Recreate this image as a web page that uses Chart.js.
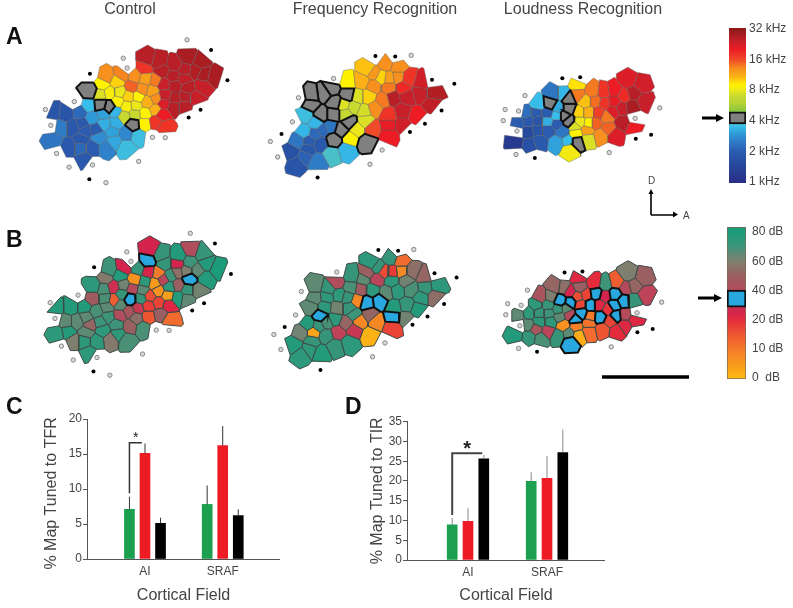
<!DOCTYPE html>
<html>
<head>
<meta charset="utf-8">
<title>Tonotopic maps</title>
<script src="https://cdn.jsdelivr.net/npm/chart.js@4"></script>
<style>
body { margin: 0; background: #fff; font-family: "Liberation Sans", Arial, sans-serif; color: #444; }
#page { position: relative; width: 793px; height: 608px; overflow: hidden; filter: blur(0.45px); }
canvas { position: absolute; }
.head { position: absolute; top: 0; font-size: 16px; line-height: 18px; transform: translateX(-50%); white-space: nowrap; }
.letter { position: absolute; font-size: 23px; line-height: 23px; font-weight: bold; color: #111; }
.note { position: absolute; font-size: 10px; line-height: 10px; }
svg { position: absolute; left: 0; top: 0; }
</style>
</head>
<body>
<div id="page">
  <div class="head" style="left:130px">Control</div>
  <div class="head" style="left:375px">Frequency Recognition</div>
  <div class="head" style="left:583px">Loudness Recognition</div>
  <div class="letter" style="left:6px;top:25px">A</div>
  <div class="letter" style="left:6px;top:228px">B</div>
  <div class="letter" style="left:6px;top:395px">C</div>
  <div class="letter" style="left:345px;top:395px">D</div>
  <div class="note" style="left:648px;top:176px">D</div>
  <div class="note" style="left:683px;top:211px">A</div>
  <svg width="793" height="608">
    <g stroke="#000" fill="#000">
      <path d="M651 215V193M651 215H674" stroke-width="1.6" fill="none"/>
      <path d="M648.5 194L651 189L653.5 194Z M673 211.5L678 214.5L673 217.5Z" stroke="none"/>
      <path d="M702 118H718" stroke-width="3"/>
      <path d="M716 114L724 118L716 122Z" stroke="none"/>
      <path d="M698 298H716" stroke-width="3"/>
      <path d="M714 294L722 298L714 302Z" stroke="none"/>
      <path d="M602 377H689" stroke-width="3.5"/>
    </g>
  </svg>
</div>
<script>
// colour scales
var freqStopKhz = [1, 1.5, 2, 2.5, 3, 3.5, 5, 6, 7, 8, 9, 11, 13, 16, 20, 24, 32];
var freqStopColor = ['#2a2f86', '#264a9e', '#2b5cb0', '#2f7cc6', '#2f9ad8', '#38bdea', '#8cc63f', '#b5d334', '#c8d92f', '#ece71a', '#fff200', '#fbb017', '#f7901e', '#ef4b28', '#ed1c24', '#c8202a', '#8b1a1a'];
var levelStopDb = [0, 5, 10, 15, 20, 25, 30, 40, 50, 60, 70, 80];
var levelStopColor = ['#fdb913', '#f8981d', '#f37b2b', '#ee5532', '#e42b3c', '#d4244d', '#c93853', '#b54a5c', '#9a5f60', '#7f7f70', '#3d9478', '#1c9b7b'];

var freqLabels = ['1 kHz', '2 kHz', '4 kHz', '8 kHz', '16 kHz', '32 kHz'];
var levelLabels = ['0  dB', '10 dB', '20 dB', '40 dB', '60 dB', '80 dB'];
var levelTickDb = [0, 10, 20, 40, 60, 80];
var TRAINED_KHZ = 4;
var TRAINED_DB = 35;

// recording sites: [x, y, best frequency in kHz], map units are 1/3 px
var controlFreq = [[445,170,26],[478,178,26],[435,200,18],[490,210,26],[530,190,26],[570,165,28],[610,180,28],[560,205,26],[595,208,27],[652,225,28],[620,218,28],[525,225,26],[558,232,25],[495,250,24],[530,255,26],[570,262,26],[615,258,24],[500,285,24],[530,295,26],[562,290,26],[595,292,24],[527,320,26],[560,320,26],[495,312,22],[490,345,20],[470,370,18],[498,385,18],[315,228,13],[365,220,13.5],[405,225,13],[438,232,12],[470,238,14],[350,243,10],[305,250,9],[395,258,15],[428,265,13],[460,272,12],[298,283,7.5],[325,278,8.5],[358,275,8],[385,288,10],[415,290,9],[445,307,11],[470,295,13],[470,330,11],[352,305,9],[380,320,8.5],[408,318,8],[372,352,7],[405,345,7],[437,342,9],[435,375,9],[265,272,4],[298,315,4],[326,322,4],[400,378,4],[262,318,3.5],[272,355,3],[305,345,3.1],[345,337,3.4],[310,375,3.3],[345,372,3.3],[335,400,3.1],[378,405,2.7],[415,412,3.6],[295,418,2.8],[340,430,3.2],[315,450,2.6],[378,450,3.6],[235,340,2.2],[190,345,1.8],[150,340,1.8],[175,385,2.5],[212,385,1.9],[240,375,1.9],[285,393,2],[250,397,2],[150,428,2.4],[200,450,1.9],[238,425,1.9],[235,450,2.2],[272,452,2],[248,487,1.9]];
var freqTaskFreq = [[352,203,10.5],[410,185,13],[447,195,13],[372,217,12.5],[395,228,10],[420,232,12],[447,228,13],[335,240,11],[290,245,9],[372,255,13],[420,260,14],[355,290,10],[322,290,7.5],[400,300,14],[375,325,13],[342,335,7.3],[310,322,7],[278,315,7.6],[283,345,6.8],[345,365,7.5],[318,392,8],[297,420,9],[178,285,4],[175,315,4],[215,280,4],[240,263,4],[250,308,4],[290,283,4],[207,345,4],[245,345,4],[295,370,4],[270,395,4],[247,425,4],[352,435,4],[480,232,18],[462,260,19],[520,243,23],[560,280,27],[518,280,24],[555,310,25],[432,292,26],[475,290,24],[462,335,24],[505,350,20],[418,347,18],[462,378,23],[418,380,21],[418,410,20],[368,390,16],[160,348,3.6],[190,372,3.4],[155,400,3.4],[237,385,2.4],[212,395,2.2],[187,407,2.2],[135,430,2.4],[170,428,2],[205,437,1.9],[165,455,1.9],[115,465,1.7],[155,478,2.1],[130,500,1.8],[195,495,2.5],[240,470,3.8],[285,458,3.4]];
var loudTaskFreq = [[447,238,22],[490,252,23],[465,278,26],[435,287,19],[500,305,24],[460,322,28],[405,270,20],[372,275,18],[405,305,21],[428,325,24],[375,310,18],[400,335,22],[432,372,26],[465,387,20],[408,412,22],[355,340,17],[382,352,14],[345,372,15],[338,272,14],[345,305,14.5],[290,283,14],[288,252,9.5],[315,305,10.5],[325,340,11],[295,340,10],[295,368,8],[327,372,9],[282,383,7.5],[285,405,9],[320,397,12],[362,412,13],[385,390,15],[322,422,7.5],[265,455,8.3],[205,312,4],[262,295,4],[262,328,4],[250,350,4],[263,365,4],[288,432,4],[215,280,2.4],[243,280,3.4],[165,315,3.5],[228,325,3.2],[225,350,3.5],[130,340,2.3],[160,340,2],[195,342,2],[105,375,2],[135,368,1.9],[165,365,1.8],[195,367,3.3],[225,375,2],[135,400,1.5],[165,395,1.8],[195,395,2],[243,400,2.4],[95,435,1.2],[140,440,1.7],[170,430,1.9],[225,435,3.1],[260,430,3.5]];

// same sites as read on row B: [x, y, threshold in dB]
var controlLevel = [[452,110,25],[486,127,72],[445,145,35],[497,155,72],[542,130,78],[580,110,42],[617,122,72],[538,155,25],[575,150,70],[628,155,78],[662,170,80],[372,168,25],[325,175,70],[360,192,78],[415,170,72],[447,180,24],[478,185,10],[315,200,58],[404,205,6],[467,218,5],[494,205,38],[517,193,70],[538,182,55],[565,178,60],[600,175,65],[575,203,35],[625,200,78],[275,225,75],[338,228,28],[370,222,62],[437,212,75],[512,228,75],[540,222,50],[570,237,72],[602,238,62],[310,235,68],[397,233,40],[430,238,65],[478,240,6],[273,265,48],[313,265,68],[365,252,72],[340,270,14],[390,267,35],[423,265,72],[452,257,16],[508,255,4],[538,262,78],[568,267,65],[160,295,78],[205,293,78],[248,292,78],[285,305,68],[318,292,65],[360,285,65],[415,295,30],[447,288,18],[480,278,17],[510,285,22],[190,337,65],[225,337,65],[253,325,65],[265,348,52],[297,340,70],[322,323,70],[358,318,42],[387,305,45],[410,327,55],[447,322,15],[485,315,50],[515,333,12],[165,378,75],[195,372,78],[213,400,60],[255,372,65],[305,365,75],[348,347,70],[390,352,50],[430,358,68],[248,400,75],[285,400,75],[330,395,58],[352,378,75],[380,397,68],[262,437,75]];
var freqTaskLevel = [[365,120,75],[425,105,72],[457,115,12],[385,135,72],[405,148,16],[430,150,18],[458,147,8],[350,153,50],[303,162,72],[255,183,42],[187,195,65],[382,173,38],[340,172,65],[428,177,75],[472,178,62],[492,147,55],[530,163,52],[573,195,75],[300,200,68],[230,205,72],[332,205,48],[367,207,75],[445,210,75],[488,205,68],[533,200,72],[565,227,55],[187,232,65],[225,228,75],[263,223,75],[290,230,72],[320,240,8],[412,215,65],[520,230,75],[350,248,35],[390,243,35],[175,262,65],[218,262,75],[256,265,62],[295,265,72],[435,262,78],[475,255,72],[510,268,78],[205,290,35],[310,285,70],[360,285,52],[472,297,62],[432,294,35],[167,317,78],[250,300,75],[225,310,68],[198,322,72],[285,312,52],[327,307,8],[380,307,8],[430,325,17],[145,343,62],[183,342,3],[222,352,72],[260,342,36],[310,335,30],[360,352,1],[123,383,78],[178,370,72],[145,413,75],[170,395,75],[207,408,78],[250,387,72],[295,375,75]];
var loudTaskLevel = [[448,155,60],[495,167,50],[293,168,22],[412,182,14],[468,193,52],[342,185,20],[377,190,70],[220,197,52],[245,200,55],[297,197,50],[265,212,25],[503,220,36],[440,200,40],[172,228,45],[207,228,60],[290,228,16],[316,222,17],[348,218,35],[376,225,25],[407,220,35],[465,240,72],[235,240,35],[268,246,35],[298,252,17],[331,255,35],[357,255,22],[405,255,35],[433,242,35],[160,253,75],[198,255,72],[103,285,65],[138,280,75],[170,280,72],[200,280,70],[228,268,72],[255,265,65],[385,268,19],[302,280,35],[265,285,40],[135,317,65],[170,307,75],[205,307,75],[233,292,65],[283,300,35],[330,290,10],[360,292,35],[410,288,35],[437,285,40],[470,302,22],[160,330,45],[197,337,38],[245,318,6],[285,322,9],[325,312,11],[392,305,17],[437,318,22],[95,350,78],[138,355,72],[175,360,68],[228,352,72],[263,345,65],[292,350,2],[325,338,12],[368,330,15],[412,335,20],[268,370,35]];

// non-auditory sites around each map
var controlFreqOpen = [[568,110],[369,168],[381,199],[216,305],[126,330],[143,380],[161,469],[200,512],[273,505],[315,561],[417,494],[460,418],[500,419]];
var controlFreqSolid = [[643,142],[694,238],[610,331],[573,355],[265,217],[263,550]];
var freqTaskFreqOpen = [[489,159],[246,232],[136,293],[117,369],[48,431],[71,480],[398,458],[360,503]];
var freqTaskFreqSolid = [[377,161],[439,163],[554,236],[624,249],[584,333],[532,375],[485,401],[83,407],[196,545]];
var loudTaskFreqOpen = [[125,286],[63,330],[105,335],[57,365],[100,398],[97,472],[547,325],[470,358],[389,466]];
var loudTaskFreqSolid = [[242,231],[298,228],[472,422],[520,410],[156,483]];
var controlLevelOpen = [[578,58],[380,117],[393,147],[228,254],[141,278],[156,328],[176,416],[213,460],[287,452],[327,508],[429,441],[472,365],[512,366]];
var controlLevelSolid = [[655,90],[705,187],[621,280],[584,303],[278,166],[276,496]];
var freqTaskLevelOpen = [[497,78],[256,150],[145,212],[127,287],[59,349],[81,397],[407,376],[368,420]];
var freqTaskLevelSolid = [[386,80],[448,82],[562,154],[631,167],[592,252],[540,292],[493,318],[93,325],[205,462]];
var loudTaskLevelOpen = [[133,207],[71,250],[113,255],[65,285],[109,320],[105,392],[553,245],[476,279],[395,387]];
var loudTaskLevelSolid = [[249,151],[305,148],[477,341],[525,330],[163,403]];

// bar panels
var fields = ['AI', 'SRAF'];
var tfrGreen = [7.1, 7.8];
var tfrRed = [15.1, 16.2];
var tfrBlack = [5.1, 6.2];
var tfrGreenErr = [8.9, 10.5];
var tfrRedErr = [16.5, 19.0];
var tfrBlackErr = [5.9, 7.1];
var tirGreen = [8.9, 19.9];
var tirRed = [9.8, 20.7];
var tirBlack = [25.6, 27.2];
var tirGreenErr = [10.6, 22.2];
var tirRedErr = [13.1, 26.3];
var tirBlackErr = [26.6, 33.0];

Chart.defaults.font.family = '"Liberation Sans", Arial, sans-serif';
Chart.defaults.color = '#444';
Chart.defaults.animation = false;
Chart.defaults.responsive = false;
Chart.defaults.events = [];
Chart.defaults.plugins.legend.display = false;
Chart.defaults.plugins.tooltip.enabled = false;

function hexToRgb(h) {
  return [parseInt(h.substr(1, 2), 16), parseInt(h.substr(3, 2), 16), parseInt(h.substr(5, 2), 16)];
}

function colorAt(keys, colors, v) {
  if (v <= keys[0]) return colors[0];
  for (var i = 1; i < keys.length; i++) {
    if (v <= keys[i]) {
      var t = (v - keys[i - 1]) / (keys[i] - keys[i - 1]);
      var a = hexToRgb(colors[i - 1]), b = hexToRgb(colors[i]);
      return 'rgb(' + a.map(function (c, k) { return Math.round(c + (b[k] - c) * t); }).join(',') + ')';
    }
  }
  return colors[colors.length - 1];
}

// keep the part of a polygon nearer to p than to q
function clipBisector(poly, p, q) {
  var mx = (p[0] + q[0]) / 2, my = (p[1] + q[1]) / 2, nx = q[0] - p[0], ny = q[1] - p[1];
  return clipPlane(poly, mx, my, nx, ny);
}

function clipPlane(poly, mx, my, nx, ny) {
  var out = [];
  for (var i = 0; i < poly.length; i++) {
    var a = poly[i], b = poly[(i + 1) % poly.length];
    var da = (a[0] - mx) * nx + (a[1] - my) * ny;
    var db = (b[0] - mx) * nx + (b[1] - my) * ny;
    if (da <= 0) out.push(a);
    if ((da < 0 && db > 0) || (da > 0 && db < 0)) {
      var t = da / (da - db);
      out.push([a[0] + (b[0] - a[0]) * t, a[1] + (b[1] - a[1]) * t]);
    }
  }
  return out;
}

// voronoi cell of every site, cut off at a maximum reach on the open side
function makeCells(sites, others, reach) {
  var all = sites.concat(others);
  return sites.map(function (s, idx) {
    var poly = [[s[0] - 400, s[1] - 400], [s[0] + 400, s[1] - 400], [s[0] + 400, s[1] + 400], [s[0] - 400, s[1] + 400]];
    all.forEach(function (o) {
      if (o !== s) poly = clipBisector(poly, s, o);
    });
    for (var k = 0; k < 6; k++) {
      var ang = idx * 0.7 + k * Math.PI / 3;
      var nx = Math.cos(ang), ny = Math.sin(ang);
      poly = clipPlane(poly, s[0] + nx * reach, s[1] + ny * reach, nx, ny);
    }
    return poly;
  });
}

function addCanvas(left, top, w, h) {
  var c = document.createElement('canvas');
  c.width = w;
  c.height = h;
  c.style.left = left + 'px';
  c.style.top = top + 'px';
  document.getElementById('page').appendChild(c);
  return c;
}

function drawMap(box, sites, open, solid, opt) {
  var cells = makeCells(sites, open.concat(solid), opt.reach);
  var datasets = [];
  cells.forEach(function (poly, i) {
    var v = sites[i][2];
    var trained = v === opt.trained;
    var pts = poly.concat([poly[0]]).map(function (p) { return { x: p[0], y: p[1] }; });
    datasets.push({
      data: pts,
      showLine: true,
      fill: 'shape',
      tension: 0,
      pointRadius: 0,
      order: trained ? 1 : 2,
      backgroundColor: trained ? opt.trainedColor : opt.color(v),
      borderColor: trained ? '#111' : opt.edge,
      borderWidth: trained ? 2 : opt.edgeWidth
    });
  });
  datasets.push({ data: open.map(function (p) { return { x: p[0], y: p[1] }; }), order: 0, pointRadius: 2.2, backgroundColor: '#d8d8d8', borderColor: '#888', borderWidth: 1 });
  datasets.push({ data: solid.map(function (p) { return { x: p[0], y: p[1] }; }), order: 0, pointRadius: 2, backgroundColor: '#000', borderColor: '#000', borderWidth: 0 });
  new Chart(addCanvas(box[0], box[1], box[2], box[3]), {
    type: 'scatter',
    data: { datasets: datasets },
    options: {
      layout: { padding: 0 },
      scales: {
        x: { type: 'linear', display: false, min: 0, max: box[2] * 3 },
        y: { type: 'linear', display: false, reverse: true, min: 0, max: box[3] * 3 }
      }
    }
  });
}

function freqColor(k) { return colorAt(freqStopKhz, freqStopColor, k); }
function levelColor(d) { return colorAt(levelStopDb, levelStopColor, d); }

var rowA = { trained: TRAINED_KHZ, trainedColor: '#808080', color: freqColor, edge: 'rgba(90,90,90,0.4)', edgeWidth: 1 };
var rowB = { trained: TRAINED_DB, trainedColor: '#29a8e0', color: levelColor, edge: '#3d4a45', edgeWidth: 1 };

drawMap([0, 0, 260, 200], controlFreq, controlFreqOpen, controlFreqSolid, Object.assign({ reach: 38 }, rowA));
drawMap([250, 0, 240, 200], freqTaskFreq, freqTaskFreqOpen, freqTaskFreqSolid, Object.assign({ reach: 40 }, rowA));
drawMap([480, 0, 240, 200], loudTaskFreq, loudTaskFreqOpen, loudTaskFreqSolid, Object.assign({ reach: 36 }, rowA));
drawMap([0, 210, 260, 185], controlLevel, controlLevelOpen, controlLevelSolid, Object.assign({ reach: 38 }, rowB));
drawMap([250, 220, 240, 170], freqTaskLevel, freqTaskLevelOpen, freqTaskLevelSolid, Object.assign({ reach: 40 }, rowB));
drawMap([480, 220, 240, 180], loudTaskLevel, loudTaskLevelOpen, loudTaskLevelSolid, Object.assign({ reach: 36 }, rowB));

// colour bars, y axis runs in label steps
function scaleGradient(keys, colors, toPos) {
  return function (c) {
    var area = c.chart.chartArea;
    if (!area) return colors[0];
    var y = c.chart.scales.y;
    var g = c.chart.ctx.createLinearGradient(0, area.bottom, 0, area.top);
    keys.forEach(function (k, i) {
      var f = (area.bottom - y.getPixelForValue(toPos(k))) / (area.bottom - area.top);
      g.addColorStop(Math.min(1, Math.max(0, f)), colors[i]);
    });
    return g;
  };
}

function drawColorBar(box, labels, span, trainedSpan, trainedColor, fillColor, border, padTop, padBottom, axisW, tickPad) {
  new Chart(addCanvas(box[0], box[1], box[2], box[3]), {
    type: 'bar',
    data: {
      labels: ['scale'],
      datasets: [
        { data: [trainedSpan], backgroundColor: trainedColor, borderColor: '#111', borderWidth: 2, borderSkipped: false, grouped: false, barPercentage: 1, categoryPercentage: 1 },
        { data: [span], backgroundColor: fillColor, borderColor: border, borderWidth: border ? 1 : 0, borderSkipped: false, grouped: false, barPercentage: 1, categoryPercentage: 1 }
      ]
    },
    options: {
      layout: { padding: { top: padTop, bottom: padBottom } },
      scales: {
        x: { display: false },
        y: {
          position: 'right',
          min: span[0],
          max: span[1],
          afterFit: function (s) { s.width = axisW; s.paddingTop = 0; s.paddingBottom = 0; },
          afterBuildTicks: function (s) { s.ticks = labels.map(function (l, i) { return { value: i }; }); },
          grid: { display: false, drawTicks: false, tickLength: 0 },
          border: { display: false },
          ticks: { padding: tickPad, color: '#444', font: { size: 12 }, autoSkip: false, callback: function (v) { return labels[v]; } }
        }
      }
    }
  });
}

function khzToPos(k) { return Math.log(k) / Math.LN2; }

function dbToPos(d) {
  for (var i = 1; i < levelTickDb.length; i++) {
    if (d <= levelTickDb[i]) return i - 1 + (d - levelTickDb[i - 1]) / (levelTickDb[i] - levelTickDb[i - 1]);
  }
  return levelTickDb.length - 1;
}

drawColorBar([729, 20, 64, 172], freqLabels, [-0.03, 5.03], [1.9, 2.29], '#808080', scaleGradient(freqStopKhz, freqStopColor, khzToPos), null, 8, 9, 47, 3);
drawColorBar([727, 219, 66, 168], levelLabels, [-0.03, 5.17], [2.43, 3.01], '#29a8e0', scaleGradient(levelStopDb, levelStopColor, dbToPos), '#7a6a55', 8, 8, 47, 6);

// error bars, bracket and star for the bar panels
var barExtras = {
  id: 'barExtras',
  afterDatasetsDraw: function (chart, args, opts) {
    var ctx = chart.ctx, y = chart.scales.y;
    ctx.save();
    chart.data.datasets.forEach(function (ds, i) {
      chart.getDatasetMeta(i).data.forEach(function (bar, j) {
        ctx.strokeStyle = opts.errColor;
        ctx.lineWidth = 1;
        ctx.beginPath();
        ctx.moveTo(bar.x, y.getPixelForValue(ds.data[j].y));
        ctx.lineTo(bar.x, y.getPixelForValue(ds.err[j]));
        ctx.stroke();
      });
    });
    var x = chart.scales.x;
    ctx.strokeStyle = opts.bracketColor;
    ctx.lineWidth = opts.bracketWidth;
    ctx.beginPath();
    ctx.moveTo(x.getPixelForValue(opts.from), y.getPixelForValue(opts.low));
    ctx.lineTo(x.getPixelForValue(opts.from), y.getPixelForValue(opts.high));
    ctx.lineTo(x.getPixelForValue(opts.to), y.getPixelForValue(opts.high));
    ctx.stroke();
    ctx.fillStyle = '#222';
    ctx.font = opts.starFont;
    ctx.textAlign = 'center';
    ctx.textBaseline = 'middle';
    ctx.fillText('*', x.getPixelForValue((opts.from + opts.to) / 2), y.getPixelForValue(opts.high) + opts.starShift);
    ctx.restore();
  }
};

function groupSet(values, err, offset, color) {
  return {
    data: values.map(function (v, i) { return { x: i + offset, y: v }; }),
    err: err,
    backgroundColor: color,
    grouped: false,
    barPercentage: 1,
    categoryPercentage: 1,
    maxBarThickness: 10
  };
}

function drawBars(box, sets, o) {
  new Chart(addCanvas(box[0], box[1], box[2], box[3]), {
    type: 'bar',
    data: { datasets: sets },
    plugins: [barExtras],
    options: {
      layout: { padding: { top: o.padTop, right: 0 } },
      plugins: { barExtras: o.extras },
      scales: {
        x: {
          type: 'linear',
          offset: false,
          min: o.xMin,
          max: o.xMax,
          afterFit: function (s) { s.height = o.axisH; },
          afterBuildTicks: function (s) { s.ticks = fields.map(function (f, i) { return { value: i }; }); },
          grid: { display: false, drawTicks: false, tickLength: 0 },
          border: { color: '#555', width: 1 },
          ticks: { color: '#444', padding: 5, font: { size: 12 }, autoSkip: false, maxRotation: 0, callback: function (v) { return fields[v]; } },
          title: { display: true, text: 'Cortical Field', color: '#444', font: { size: 16 }, padding: { top: 0, bottom: 3 } }
        },
        y: {
          min: 0,
          max: o.yMax,
          afterFit: function (s) { s.width = o.axisW; },
          grid: { drawOnChartArea: false, tickLength: 4, color: '#555' },
          border: { color: '#555', width: 1 },
          ticks: { stepSize: 5, color: '#444', padding: 1, font: { size: 12 } },
          title: { display: true, text: o.yTitle, color: '#444', font: { size: 16 }, padding: 0 }
        }
      }
    }
  });
}

drawBars([42, 400, 238, 208], [
  groupSet(tfrGreen, tfrGreenErr, -0.2, '#1aa04f'),
  groupSet(tfrRed, tfrRedErr, 0, '#ed1c24'),
  groupSet(tfrBlack, tfrBlackErr, 0.2, '#000')
], {
  padTop: 19, axisH: 49, axisW: 45, xMin: -0.746, xMax: 1.737, yMax: 20, yTitle: '% Map Tuned to TFR  ',
  extras: { errColor: '#333', bracketColor: '#333', bracketWidth: 1.5, from: -0.2, to: -0.04, low: 9.4, high: 16.6, starFont: '14px "Liberation Sans"', starShift: -5 }
});

drawBars([368, 400, 237, 208], [
  groupSet(tirGreen, tirGreenErr, -0.2, '#1aa04f'),
  groupSet(tirRed, tirRedErr, 0, '#ed1c24'),
  groupSet(tirBlack, tirBlackErr, 0.2, '#000')
], {
  padTop: 21.7, axisH: 48, axisW: 39, xMin: -0.772, xMax: 1.734, yMax: 35, yTitle: '% Map Tuned to TIR',
  extras: { errColor: '#888', bracketColor: '#444', bracketWidth: 2, from: -0.2, to: 0.18, low: 11.4, high: 27, starFont: 'bold 20px "Liberation Sans"', starShift: -4 }
});
</script>
</body>
</html>
